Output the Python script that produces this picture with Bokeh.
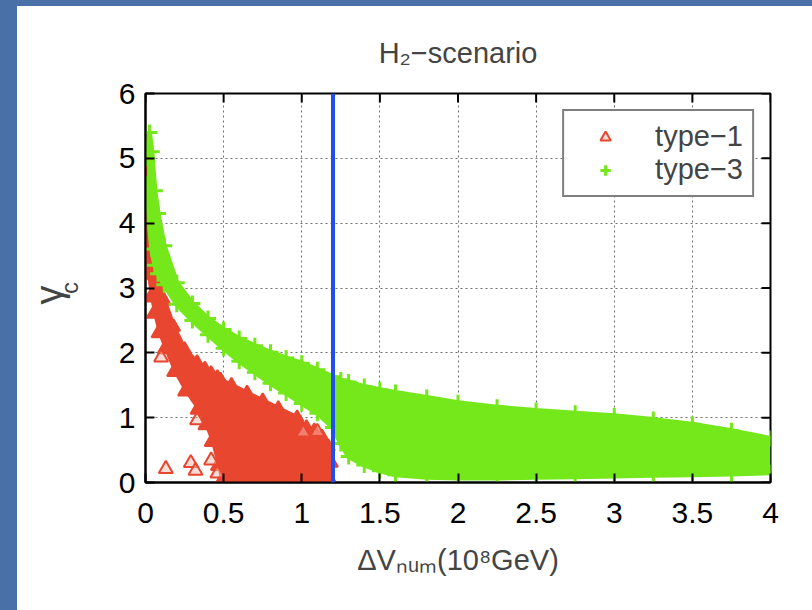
from bokeh.plotting import figure
from bokeh.models import (Span, Legend, LegendItem, Title, Div,
                          ColumnDataSource, FixedTicker, Range1d)
from bokeh.layouts import row, column
from bokeh.embed import file_html
from bokeh.resources import INLINE

# ---------------- data ----------------
x_ticks = [0, 0.5, 1, 1.5, 2, 2.5, 3, 3.5, 4]
x_tick_labels = ["0", "0.5", "1", "1.5", "2", "2.5", "3", "3.5", "4"]
y_ticks = [0, 1, 2, 3, 4, 5, 6]
y_tick_labels = ["0", "1", "2", "3", "4", "5", "6"]

# type-3 (green) cloud: envelope of the dense point band
type3_x = [0.01, 0.025, 0.04, 0.06, 0.08, 0.12, 0.2, 0.3, 0.4, 0.5,
           0.6, 0.7, 0.8, 0.9, 1.0, 1.1, 1.2, 1.25, 1.3, 1.4,
           1.5, 1.6, 1.8, 2.0, 2.25, 2.5, 2.75, 3.0, 3.25, 3.5,
           3.75, 4.0]
type3_upper = [5.0, 5.4, 5.1, 4.5, 4.15, 3.65, 3.08, 2.76, 2.53, 2.36,
               2.22, 2.11, 2.01, 1.92, 1.84, 1.74, 1.63, 1.58, 1.55, 1.48,
               1.43, 1.39, 1.31, 1.23, 1.16, 1.11, 1.07, 1.03, 0.97, 0.9,
               0.8, 0.68]
type3_lower = [4.6, 4.0, 3.6, 3.35, 3.22, 3.05, 2.75, 2.5, 2.28, 2.07,
               1.87, 1.7, 1.53, 1.38, 1.22, 1.07, 0.85, 0.6, 0.4, 0.27,
               0.18, 0.12, 0.08, 0.07, 0.07, 0.08, 0.09, 0.1, 0.11, 0.12,
               0.13, 0.15]

# type-1 (red) cloud: envelope of the dense point band
type1_x = [0.0, 0.01, 0.03, 0.05, 0.08, 0.12, 0.18, 0.25, 0.33, 0.38,
           0.42, 0.46, 0.48, 0.55, 0.65, 0.75, 0.85, 0.97, 1.03, 1.08,
           1.13, 1.17, 1.19]
type1_upper = [5.2, 5.1, 4.6, 4.0, 3.3, 2.8, 2.4, 2.05, 1.85, 1.75,
               1.68, 1.62, 1.58, 1.5, 1.38, 1.26, 1.14, 1.0, 0.85, 0.8,
               0.7, 0.55, 0.3]
type1_lower = [3.6, 3.2, 2.85, 2.6, 2.3, 2.05, 1.7, 1.4, 1.12, 0.88,
               0.62, 0.25, 0.0, 0.0, 0.0, 0.0, 0.0, 0.0, 0.0, 0.0,
               0.0, 0.0, 0.0]

# isolated type-1 points
type1_iso_x = [0.13, 0.29, 0.32, 0.42, 0.46, 0.33, 0.10, 1.01, 1.10]
type1_iso_y = [0.21, 0.30, 0.18, 0.34, 0.14, 0.96, 1.93, 0.77, 0.78]

# vertical bound
dv_bound = 1.2

X_MAX = 4
Y_MAX = 6

RED = "#e8462f"
GREEN = "#74e81a"
BLUE = "#1f4ff0"
FONT = "Liberation Sans"

p = figure(width=795, height=604, x_range=Range1d(0, X_MAX), y_range=Range1d(0, Y_MAX),
           output_backend="svg", toolbar_location=None,
           min_border_left=128, min_border_right=42,
           min_border_top=87, min_border_bottom=128,
           title="H\u2082\u2212scenario")
p.title.text_font = FONT
p.title.text_font_size = "29px"
p.title.text_font_style = "normal"
p.title.align = "center"
p.title.standoff = 50
p.background_fill_color = "white"
p.border_fill_color = "white"
p.outline_line_color = "black"
p.outline_line_width = 2

tick = FixedTicker(ticks=x_ticks)
ytick = FixedTicker(ticks=y_ticks)
p.xaxis.ticker = tick
p.yaxis.ticker = ytick
p.xaxis.major_label_overrides = {t: s for t, s in zip(x_ticks, x_tick_labels)}
p.yaxis.major_label_overrides = {t: s for t, s in zip(y_ticks, y_tick_labels)}
for ax in (p.xaxis[0], p.yaxis[0]):
    ax.major_label_text_font = FONT
    ax.major_label_text_font_size = "30px"
    ax.major_label_text_color = "black"
    ax.axis_line_color = "black"
    ax.axis_line_width = 2
    ax.major_tick_in = 9
    ax.major_tick_out = 0
    ax.major_tick_line_width = 2
    ax.minor_tick_line_color = None
p.xaxis.major_label_standoff = 20
p.yaxis.major_label_standoff = 10
p.xaxis.axis_label = "\u0394V\u2099\u1d64\u2098(10\u2078GeV)"
p.xaxis.axis_label_text_font = FONT
p.xaxis.axis_label_text_font_size = "29px"
p.xaxis.axis_label_text_font_style = "normal"
p.xaxis.axis_label_standoff = 18

# y-axis label gamma_c : subscript "c" as the axis label, "gamma" as an outer side title
p.yaxis.axis_label = "c"
p.yaxis.axis_label_text_font = FONT
p.yaxis.axis_label_text_font_size = "24px"
p.yaxis.axis_label_text_font_style = "normal"
p.yaxis.axis_label_standoff = 33
gamma = Title(text="\u03b3", text_font=FONT, text_font_size="38px",
              text_font_style="normal", align="left", offset=178, standoff=-35)
p.add_layout(gamma, "left")

for g, t in ((p.xgrid[0], tick), (p.ygrid[0], ytick)):
    g.ticker = t
    g.grid_line_color = "#707070"
    g.grid_line_dash = "2 3"
    g.grid_line_width = 1

# ---------------- type-1 cloud ----------------
src1 = ColumnDataSource(dict(x=type1_x, lo=type1_lower, hi=type1_upper))
p.varea(x="x", y1="lo", y2="hi", source=src1, fill_color=RED)
p.line(x="x", y="hi", source=src1, line_color=RED, line_width=5)
p.scatter(x="x", y="hi", source=src1, marker="triangle", size=13,
          line_color=RED, fill_color=RED, line_width=2)
p.scatter(x="x", y="lo", source=src1, marker="triangle", size=13,
          line_color=RED, fill_color=RED, line_width=2)
iso = p.scatter(x=type1_iso_x, y=type1_iso_y, marker="triangle", size=14,
                line_color=RED, fill_color="#f8b8ae", fill_alpha=0.5, line_width=2)

# ---------------- type-3 cloud ----------------
src3 = ColumnDataSource(dict(x=type3_x, lo=type3_lower, hi=type3_upper))
p.varea(x="x", y1="lo", y2="hi", source=src3, fill_color=GREEN)
p.line(x="x", y="hi", source=src3, line_color=GREEN, line_width=5)
p.line(x="x", y="lo", source=src3, line_color=GREEN, line_width=5)
g_hi = p.scatter(x="x", y="hi", source=src3, marker="cross", size=16,
                 line_color=GREEN, line_width=3)
p.scatter(x="x", y="lo", source=src3, marker="cross", size=16,
          line_color=GREEN, line_width=3)

# ---------------- bound ----------------
p.add_layout(Span(location=dv_bound, dimension="height", line_color=BLUE, line_width=4))

# mirrored inward ticks on top and right edges (9 px long)
tick_len_y = 9 * Y_MAX / 389.0
tick_len_x = 9 * X_MAX / 625.0
p.segment(x0=x_ticks, y0=[Y_MAX] * len(x_ticks), x1=x_ticks,
          y1=[Y_MAX - tick_len_y] * len(x_ticks), line_color="black", line_width=2)
p.segment(x0=[X_MAX] * len(y_ticks), y0=y_ticks, x1=[X_MAX - tick_len_x] * len(y_ticks),
          y1=y_ticks, line_color="black", line_width=2)

legend = Legend(items=[LegendItem(label="type\u22121", renderers=[iso]),
                       LegendItem(label="type\u22123", renderers=[g_hi])],
                location="top_right", margin=16, padding=9, spacing=0,
                glyph_width=64, glyph_height=26, label_height=26, label_standoff=18,
                label_text_font=FONT, label_text_font_size="29px",
                border_line_color="black", border_line_width=2,
                background_fill_color="white", background_fill_alpha=1)
p.add_layout(legend)

BORDER = "#4a71a7"
top_strip = Div(text="", width=812, height=6, margin=0,
                styles={"background-color": BORDER})
side_strip = Div(text="", width=17, height=604, margin=0,
                 styles={"background-color": BORDER})
layout = column(top_strip, row(side_strip, p, spacing=0), spacing=0)

open("out.html", "w").write(file_html(layout, INLINE))
